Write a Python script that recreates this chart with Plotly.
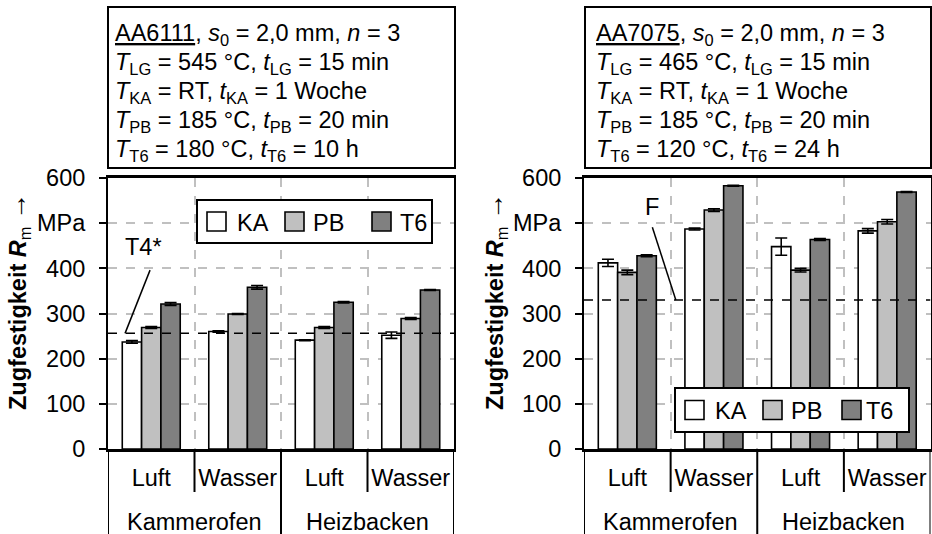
import plotly.graph_objects as go

# ---------------- data ----------------
categories = ["Luft", "Wasser", "Luft", "Wasser"]
groups = ["Kammerofen", "Heizbacken"]
series = ["KA", "PB", "T6"]

# AA6111
aa6111_KA = [237, 260, 241, 252]
aa6111_PB = [269, 299, 269, 289]
aa6111_T6 = [321, 358, 325, 352]
aa6111_KA_err = [3, 1.5, 1, 7]
aa6111_PB_err = [2, 1, 2, 2]
aa6111_T6_err = [3, 4, 1.5, 1]
aa6111_T4 = 256

# AA7075
aa7075_KA = [412, 487, 448, 483]
aa7075_PB = [391, 529, 396, 503]
aa7075_T6 = [428, 583, 464, 569]
aa7075_KA_err = [8, 2, 19, 5]
aa7075_PB_err = [5, 3, 4, 5]
aa7075_T6_err = [2, 1, 2, 1]
aa7075_F = 330

y_ticks = [0, 100, 200, 300, 400, 500, 600]
y_ticktext = ["0", "100", "200", "300", "400", "MPa", "600"]

colors = {"KA": "#ffffff", "PB": "#c0c0c0", "T6": "#808080"}

info_6111 = [
    "<u>AA6111</u>, <i>s</i><sub>0</sub> = 2,0 mm, <i>n</i> = 3",
    "<i>T</i><sub>LG</sub> = 545 °C, <i>t</i><sub>LG</sub> = 15 min",
    "<i>T</i><sub>KA</sub> = RT, <i>t</i><sub>KA</sub> = 1 Woche",
    "<i>T</i><sub>PB</sub> = 185 °C, <i>t</i><sub>PB</sub> = 20 min",
    "<i>T</i><sub>T6</sub> = 180 °C, <i>t</i><sub>T6</sub> = 10 h",
]
info_7075 = [
    "<u>AA7075</u>, <i>s</i><sub>0</sub> = 2,0 mm, <i>n</i> = 3",
    "<i>T</i><sub>LG</sub> = 465 °C, <i>t</i><sub>LG</sub> = 15 min",
    "<i>T</i><sub>KA</sub> = RT, <i>t</i><sub>KA</sub> = 1 Woche",
    "<i>T</i><sub>PB</sub> = 185 °C, <i>t</i><sub>PB</sub> = 20 min",
    "<i>T</i><sub>T6</sub> = 120 °C, <i>t</i><sub>T6</sub> = 24 h",
]

# ---------------- layout helpers ----------------
W, H = 932, 534
FONT = "Liberation Sans, Arial, sans-serif"
FS = 23.5


def px(x):
    return x / W


def py(y):
    return 1 - y / H


xpos = [i + 0.5 for i in range(len(categories))]

fig = go.Figure()

panels = [
    ("x", "y", [aa6111_KA, aa6111_PB, aa6111_T6],
     [aa6111_KA_err, aa6111_PB_err, aa6111_T6_err]),
    ("x2", "y2", [aa7075_KA, aa7075_PB, aa7075_T6],
     [aa7075_KA_err, aa7075_PB_err, aa7075_T6_err]),
]

for xa, ya, vals, errs in panels:
    for name, v, e in zip(series, vals, errs):
        fig.add_trace(go.Bar(
            x=xpos, y=v, name=name, xaxis=xa, yaxis=ya,
            offsetgroup=name, showlegend=False,
            marker=dict(color=colors[name], line=dict(color="black", width=1.6)),
            error_y=dict(type="data", array=e, visible=True, color="black",
                         thickness=1.6, width=6),
        ))

y_dom = [py(449), py(178)]
x1_dom = [px(108), px(454)]
x2_dom = [px(584), px(930.5)]

axis_common_x = dict(
    range=[0, 4], showline=True, linewidth=2.5, linecolor="black", mirror=True,
    showgrid=False, zeroline=False, tickvals=xpos, ticktext=categories,
    ticks="", tickfont=dict(family=FONT, size=FS, color="black"),
    ticklabelstandoff=6, automargin=False,
    minor=dict(tickvals=[1, 2, 3], showgrid=True, gridcolor="#c0c0c0",
               griddash="dash", gridwidth=1.5, ticks=""),
    fixedrange=True,
)
axis_common_y = dict(
    range=[0, 600], showline=True, linewidth=2, linecolor="black", mirror=True,
    tickvals=y_ticks, ticktext=y_ticktext, ticks="outside", ticklen=7,
    tickwidth=2, tickcolor="black", showgrid=True, gridcolor="#c0c0c0",
    griddash="dash", gridwidth=1.5, zeroline=False,
    tickfont=dict(family=FONT, size=FS, color="black"),
    ticklabelstandoff=9, automargin=False, fixedrange=True,
)

fig.update_layout(
    width=W, height=H, margin=dict(l=0, r=0, t=0, b=0, autoexpand=False),
    paper_bgcolor="white", plot_bgcolor="white",
    barmode="group", bargap=0.33, bargroupgap=0.0,
    font=dict(family=FONT, size=FS, color="black"),
    xaxis=dict(domain=x1_dom, anchor="y", **axis_common_x),
    yaxis=dict(domain=y_dom, anchor="x", **axis_common_y),
    xaxis2=dict(domain=x2_dom, anchor="y2", **axis_common_x),
    yaxis2=dict(domain=y_dom, anchor="x2", **axis_common_y),
)

shapes = []
annotations = []

# category table lines and group labels
for xa in ["x", "x2"]:
    for xv in [0, 2, 4]:
        shapes.append(dict(type="line", xref=xa, yref="paper", x0=xv, x1=xv,
                           y0=0, y1=y_dom[0], line=dict(color="black", width=2)))
    for xv in [1, 3]:
        shapes.append(dict(type="line", xref=xa, yref="paper", x0=xv, x1=xv,
                           y0=py(492), y1=y_dom[0], line=dict(color="black", width=2)))
    for gi, g in enumerate(groups):
        annotations.append(dict(text=g, xref=xa, yref="paper", x=1 + 2 * gi,
                                y=py(522), showarrow=False, xanchor="center",
                                yanchor="middle", font=dict(size=FS)))

# reference lines
shapes.append(dict(type="line", xref="x", yref="y", x0=0, x1=4, y0=aa6111_T4,
                   y1=aa6111_T4, layer="above",
                   line=dict(color="black", width=1.5, dash="dash")))
shapes.append(dict(type="line", xref="x", yref="y", x0=0.486, x1=0.197, y0=396,
                   y1=aa6111_T4, layer="above", line=dict(color="black", width=1.5)))
annotations.append(dict(text="T4*", xref="x", yref="y", x=0.41, y=447,
                        showarrow=False, font=dict(size=FS)))

shapes.append(dict(type="line", xref="x2", yref="y2", x0=0, x1=4, y0=aa7075_F,
                   y1=aa7075_F, layer="above",
                   line=dict(color="black", width=1.5, dash="dash")))
shapes.append(dict(type="line", xref="x2", yref="y2", x0=0.789, x1=1.06, y0=491,
                   y1=aa7075_F, layer="above", line=dict(color="black", width=1.5)))
annotations.append(dict(text="F", xref="x2", yref="y2", x=0.78, y=536,
                        showarrow=False, font=dict(size=FS)))

# y axis titles
title_text = ("<b>Zugfestigkeit <i>R</i></b><sub>m</sub> "
              "<span style='font-size:27px'>→</span>")
annotations.append(dict(
    text=title_text, xref="paper", yref="paper", x=0, y=py(302), textangle=-90,
    showarrow=False, xanchor="left", yanchor="middle", font=dict(size=FS)))
annotations.append(dict(
    text=title_text, xref="paper", yref="paper", x=px(495), y=py(302), textangle=-90,
    showarrow=False, xanchor="center", yanchor="middle", font=dict(size=FS)))

# info boxes
for (bx0, bx1, tx, lines) in [(108, 455, 113, info_6111), (585, 931, 594, info_7075)]:
    shapes.append(dict(type="rect", xref="paper", yref="paper", x0=px(bx0), x1=px(bx1),
                       y0=py(168), y1=py(7), line=dict(color="black", width=2),
                       fillcolor="white"))
    for i, t in enumerate(lines):
        yc = 31 + i * 29.2
        annotations.append(dict(text=t, xref="paper", yref="paper", x=px(tx),
                                y=py(yc + 3), showarrow=False, xanchor="left",
                                yanchor="middle", font=dict(size=FS)))

# legends (manual)
legends = [
    dict(box=(197, 432, 200, 243), sq=[207, 285, 372], tx=[235, 311, 398]),
    dict(box=(675, 909, 388, 432), sq=[685, 763, 842], tx=[713, 789, 864]),
]
for lg in legends:
    x0, x1, y0, y1 = lg["box"]
    shapes.append(dict(type="rect", xref="paper", yref="paper", x0=px(x0), x1=px(x1),
                       y0=py(y1), y1=py(y0), line=dict(color="black", width=2),
                       fillcolor="white", layer="above"))
    yc = (y0 + y1) / 2
    for name, sx, tx in zip(series, lg["sq"], lg["tx"]):
        shapes.append(dict(type="rect", xref="paper", yref="paper", x0=px(sx),
                           x1=px(sx + 19), y0=py(yc + 9.5), y1=py(yc - 9.5),
                           line=dict(color="black", width=1.6),
                           fillcolor=colors[name], layer="above"))
        annotations.append(dict(text=name, xref="paper", yref="paper", x=px(tx),
                                y=py(yc + 1), showarrow=False, xanchor="left",
                                yanchor="middle", font=dict(size=FS)))

fig.update_layout(shapes=shapes, annotations=annotations)
fig.write_html("out.html")
